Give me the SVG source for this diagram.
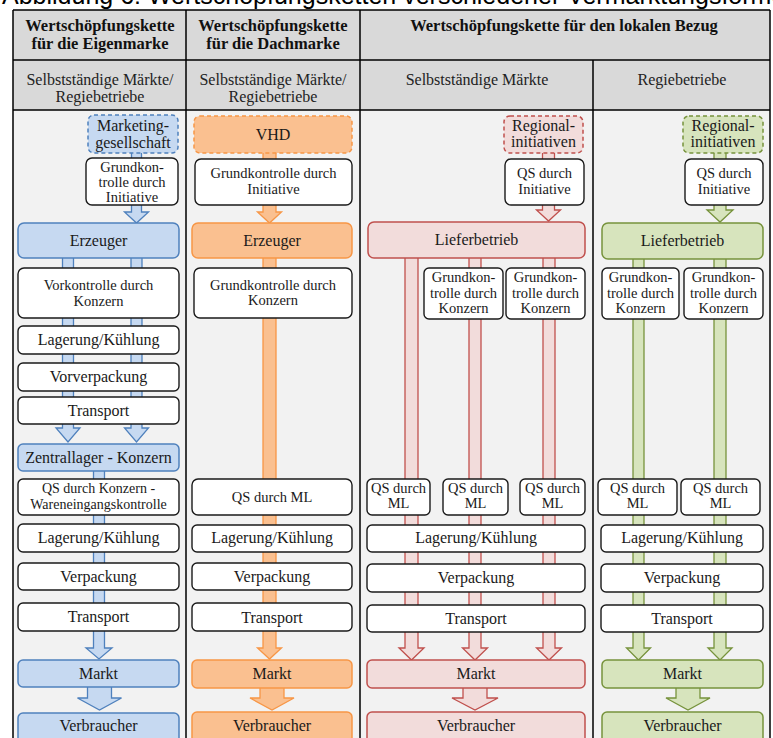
<svg xmlns="http://www.w3.org/2000/svg" width="773" height="738" viewBox="0 0 773 738">
<style>
.cap{font-family:"Liberation Sans",Arial,sans-serif;font-size:25px;fill:#000}
.hb{font-family:"Liberation Serif","Times New Roman",serif;font-size:16.5px;font-weight:bold;text-anchor:middle;fill:#111}
.hn{font-family:"Liberation Serif","Times New Roman",serif;font-size:16px;text-anchor:middle;fill:#222}
.t{font-family:"Liberation Serif","Times New Roman",serif;font-size:16px;text-anchor:middle;fill:#1a1a1a}
.s{font-family:"Liberation Serif","Times New Roman",serif;font-size:14.5px;text-anchor:middle;fill:#1a1a1a}
.w{fill:#fff;stroke:#1a1a1a;stroke-width:1.4}
.bl{fill:#c6d9f1;stroke:#4f81bd;stroke-width:1.5}
.or{fill:#fac090;stroke:#f79646;stroke-width:1.5}
.rd{fill:#f2dcdb;stroke:#c0504d;stroke-width:1.5}
.gr{fill:#d7e4bd;stroke:#77933c;stroke-width:1.5}
.d{stroke-dasharray:4 3}
.ab{fill:#c6d9f1;stroke:#4f81bd;stroke-width:1.3}
.ao{fill:#fac090;stroke:#f79646;stroke-width:1.3}
.ar{fill:#f2dcdb;stroke:#c0504d;stroke-width:1.3}
.ag{fill:#d7e4bd;stroke:#77933c;stroke-width:1.3}
.ln{stroke:#000;stroke-width:1.5;fill:none}
</style>
<text class="cap" x="2" y="4">Abbildung 6: Wertschöpfungsketten verschiedener Vermarktungsformen</text>
<g id="table">
<rect x="13" y="10" width="757" height="100" fill="#d9d9d9"/>
<rect x="13" y="110" width="757" height="640" fill="#f2f2f2"/>
<path class="ln" d="M13 10H770M13 60H770M13 110H770M13 10V738M186 10V738M360 10V738M593 60V738M770 10V738"/>
<text class="hb" x="100" y="31">Wertschöpfungskette</text>
<text class="hb" x="100" y="49">für die Eigenmarke</text>
<text class="hb" x="273" y="31">Wertschöpfungskette</text>
<text class="hb" x="273" y="49">für die Dachmarke</text>
<text class="hb" x="564" y="31">Wertschöpfungskette für den lokalen Bezug</text>
<text class="hn" x="100" y="85">Selbstständige Märkte/</text>
<text class="hn" x="100" y="102">Regiebetriebe</text>
<text class="hn" x="273" y="85">Selbstständige Märkte/</text>
<text class="hn" x="273" y="102">Regiebetriebe</text>
<text class="hn" x="477" y="85">Selbstständige Märkte</text>
<text class="hn" x="682" y="85">Regiebetriebe</text>
</g>
<g id="connectors">
<path class="ab" d="M131.5 150H141.5V212H148.5L136.5 223L124.5 212H131.5Z"/>
<path class="ab" d="M62.5 255H73.5V428H80L68 442L56 428H62.5Z"/>
<path class="ab" d="M131 255H142V428H148.5L136.5 442L124.5 428H131Z"/>
<path class="ab" d="M93.5 468H104.5V648H112L99 659L86 648H93.5Z"/>
<path class="ab" d="M87.5 685H111.5V698H121.5L99.5 710L77.5 698H87.5Z"/>
<path class="ao" d="M263 150H276V212H281.5L269.5 223L257.5 212H263Z"/>
<path class="ao" d="M263 255H276V648H281.5L269.5 659L257.5 648H263Z"/>
<path class="ao" d="M260 685H284V698H294L272 710L250 698H260Z"/>
<path class="ar" d="M542.5 150H554.5V210H560.5L548.5 221L536.5 210H542.5Z"/>
<path class="ar" d="M405 255H418V648H424L411.5 660L399 648H405Z"/>
<path class="ar" d="M469 255H481V648H487.5L475 660L462.5 648H469Z"/>
<path class="ar" d="M543 255H555V648H561.5L549 660L536.5 648H543Z"/>
<path class="ar" d="M463 685H487V698H498L475 710L452 698H463Z"/>
<path class="ag" d="M714 150H726V210H733L720 222L707 210H714Z"/>
<path class="ag" d="M633 256H644V648H650.5L638.5 660L626.5 648H633Z"/>
<path class="ag" d="M714 256H726V648H732L720 660L708 648H714Z"/>
<path class="ag" d="M676 685H700V698H710L688 710L666 698H676Z"/>
</g>
<g id="col1">
<g id="mg"><rect class="bl d" x="88" y="115" width="90" height="38" rx="6"/><text class="t" x="133" y="131">Marketing-</text><text class="t" x="133" y="148">gesellschaft</text></g>
<g id="gi1"><rect class="w" x="86" y="158" width="92" height="47" rx="6"/><text class="s" x="132" y="172">Grundkon-</text><text class="s" x="132" y="187">trolle durch</text><text class="s" x="132" y="202">Initiative</text></g>
<g id="erz1"><rect class="bl" x="18" y="223" width="161" height="35" rx="6"/><text class="t" x="98.5" y="246">Erzeuger</text></g>
<g id="vk1"><rect class="w" x="18" y="268" width="161" height="50" rx="6"/><text class="s" x="98.5" y="290">Vorkontrolle durch</text><text class="s" x="98.5" y="306">Konzern</text></g>
<g id="lk1"><rect class="w" x="18" y="326" width="161" height="28" rx="5"/><text class="t" x="98.5" y="345">Lagerung/Kühlung</text></g>
<g id="vv1"><rect class="w" x="18" y="363" width="161" height="28" rx="5"/><text class="t" x="98.5" y="382">Vorverpackung</text></g>
<g id="tr1"><rect class="w" x="18" y="397" width="161" height="27" rx="5"/><text class="t" x="98.5" y="416">Transport</text></g>
<g id="zl1"><rect class="bl" x="18" y="444" width="161" height="27" rx="5"/><text class="t" x="98.5" y="463">Zentrallager  - Konzern</text></g>
<g id="qsk1"><rect class="w" x="18" y="479" width="161" height="36" rx="5"/><text class="s" x="98.5" y="493" style="font-size:14px">QS durch Konzern -</text><text class="s" x="98.5" y="509" style="font-size:14px">Wareneingangskontrolle</text></g>
<g id="lk1b"><rect class="w" x="18" y="524" width="161" height="28" rx="5"/><text class="t" x="98.5" y="543">Lagerung/Kühlung</text></g>
<g id="vp1"><rect class="w" x="18" y="563" width="161" height="27" rx="5"/><text class="t" x="98.5" y="582">Verpackung</text></g>
<g id="tr1b"><rect class="w" x="18" y="603" width="161" height="28" rx="5"/><text class="t" x="98.5" y="622">Transport</text></g>
<g id="m1"><rect class="bl" x="18" y="660" width="161" height="27" rx="5"/><text class="t" x="98.5" y="679">Markt</text></g>
<g id="vb1"><rect class="bl" x="18" y="713" width="161" height="40" rx="5"/><text class="t" x="98.5" y="731">Verbraucher</text></g>
</g>
<g id="col2">
<g id="vhd"><rect class="or d" x="194" y="116" width="158" height="37" rx="6"/><text class="t" x="273" y="140">VHD</text></g>
<g id="gi2"><rect class="w" x="195" y="159" width="157" height="46" rx="6"/><text class="s" x="273.5" y="178">Grundkontrolle durch</text><text class="s" x="273.5" y="194">Initiative</text></g>
<g id="erz2"><rect class="or" x="192" y="223" width="160" height="35" rx="6"/><text class="t" x="272" y="246">Erzeuger</text></g>
<g id="gk2"><rect class="w" x="194" y="268" width="158" height="50" rx="6"/><text class="s" x="273" y="290">Grundkontrolle durch</text><text class="s" x="273" y="305">Konzern</text></g>
<g id="qs2"><rect class="w" x="192" y="479" width="160" height="36" rx="6"/><text class="s" x="272" y="502">QS durch ML</text></g>
<g id="lk2"><rect class="w" x="192" y="525" width="160" height="27" rx="5"/><text class="t" x="272" y="543">Lagerung/Kühlung</text></g>
<g id="vp2"><rect class="w" x="192" y="563" width="160" height="27" rx="5"/><text class="t" x="272" y="582">Verpackung</text></g>
<g id="tr2"><rect class="w" x="192" y="603" width="160" height="28" rx="5"/><text class="t" x="272" y="623">Transport</text></g>
<g id="m2"><rect class="or" x="192" y="660" width="160" height="28" rx="5"/><text class="t" x="272" y="679">Markt</text></g>
<g id="vb2"><rect class="or" x="192" y="712" width="160" height="40" rx="5"/><text class="t" x="272" y="731">Verbraucher</text></g>
</g>
<g id="col3">
<g id="ri3"><rect class="rd d" x="504" y="116" width="79" height="37" rx="6"/><text class="t" x="543.5" y="131">Regional-</text><text class="t" x="543.5" y="147">initiativen</text></g>
<g id="qsi3"><rect class="w" x="505" y="159" width="79" height="46" rx="6"/><text class="s" x="544.5" y="178">QS durch</text><text class="s" x="544.5" y="194">Initiative</text></g>
<g id="lb3"><rect class="rd" x="368" y="222" width="217" height="36" rx="6"/><text class="t" x="476.5" y="245">Lieferbetrieb</text></g>
<g id="gk3a"><rect class="w" x="424" y="268" width="79" height="51" rx="5"/><text class="s" x="463.5" y="282">Grundkon-</text><text class="s" x="463.5" y="298">trolle durch</text><text class="s" x="463.5" y="313">Konzern</text></g>
<g id="gk3b"><rect class="w" x="506" y="268" width="79" height="51" rx="5"/><text class="s" x="545.5" y="282">Grundkon-</text><text class="s" x="545.5" y="298">trolle durch</text><text class="s" x="545.5" y="313">Konzern</text></g>
<g id="qs3a"><rect class="w" x="367" y="479" width="63" height="36" rx="5"/><text class="s" x="398.5" y="493">QS durch</text><text class="s" x="398.5" y="508">ML</text></g>
<g id="qs3b"><rect class="w" x="443" y="479" width="65" height="36" rx="5"/><text class="s" x="475.5" y="493">QS durch</text><text class="s" x="475.5" y="508">ML</text></g>
<g id="qs3c"><rect class="w" x="520" y="479" width="65" height="36" rx="5"/><text class="s" x="552.5" y="493">QS durch</text><text class="s" x="552.5" y="508">ML</text></g>
<g id="lk3"><rect class="w" x="367" y="525" width="218" height="27" rx="5"/><text class="t" x="476" y="543">Lagerung/Kühlung</text></g>
<g id="vp3"><rect class="w" x="367" y="564" width="218" height="28" rx="5"/><text class="t" x="476" y="583">Verpackung</text></g>
<g id="tr3"><rect class="w" x="367" y="605" width="218" height="27" rx="5"/><text class="t" x="476" y="624">Transport</text></g>
<g id="m3"><rect class="rd" x="367" y="660" width="218" height="28" rx="5"/><text class="t" x="476" y="679">Markt</text></g>
<g id="vb3"><rect class="rd" x="367" y="712" width="218" height="40" rx="5"/><text class="t" x="476" y="731">Verbraucher</text></g>
</g>
<g id="col4">
<g id="ri4"><rect class="gr d" x="683" y="116" width="80" height="37" rx="6"/><text class="t" x="723" y="131">Regional-</text><text class="t" x="723" y="147">initiativen</text></g>
<g id="qsi4"><rect class="w" x="685" y="159" width="78" height="46" rx="6"/><text class="s" x="724" y="178">QS durch</text><text class="s" x="724" y="194">Initiative</text></g>
<g id="lb4"><rect class="gr" x="602" y="223" width="161" height="36" rx="6"/><text class="t" x="682.5" y="246">Lieferbetrieb</text></g>
<g id="gk4a"><rect class="w" x="602" y="268" width="77" height="51" rx="5"/><text class="s" x="640.5" y="282">Grundkon-</text><text class="s" x="640.5" y="298">trolle durch</text><text class="s" x="640.5" y="313">Konzern</text></g>
<g id="gk4b"><rect class="w" x="684" y="268" width="79" height="51" rx="5"/><text class="s" x="723.5" y="282">Grundkon-</text><text class="s" x="723.5" y="298">trolle durch</text><text class="s" x="723.5" y="313">Konzern</text></g>
<g id="qs4a"><rect class="w" x="598" y="479" width="79" height="36" rx="5"/><text class="s" x="637.5" y="493">QS durch</text><text class="s" x="637.5" y="508">ML</text></g>
<g id="qs4b"><rect class="w" x="681" y="479" width="79" height="36" rx="5"/><text class="s" x="720.5" y="493">QS durch</text><text class="s" x="720.5" y="508">ML</text></g>
<g id="lk4"><rect class="w" x="601" y="525" width="162" height="27" rx="5"/><text class="t" x="682" y="543">Lagerung/Kühlung</text></g>
<g id="vp4"><rect class="w" x="601" y="564" width="162" height="28" rx="5"/><text class="t" x="682" y="583">Verpackung</text></g>
<g id="tr4"><rect class="w" x="601" y="605" width="162" height="27" rx="5"/><text class="t" x="682" y="624">Transport</text></g>
<g id="m4"><rect class="gr" x="602" y="660" width="161" height="28" rx="5"/><text class="t" x="682.5" y="679">Markt</text></g>
<g id="vb4"><rect class="gr" x="602" y="712" width="161" height="40" rx="5"/><text class="t" x="682.5" y="731">Verbraucher</text></g>
</g>
</svg>
